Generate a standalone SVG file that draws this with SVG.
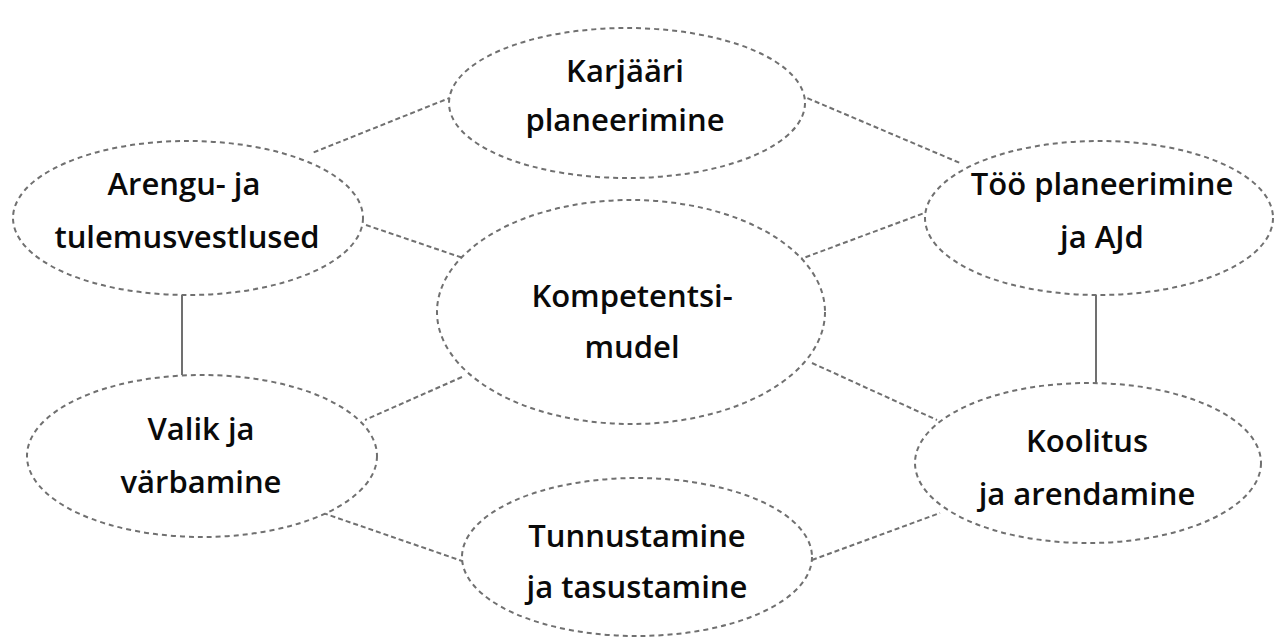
<svg xmlns="http://www.w3.org/2000/svg" width="1279" height="637" viewBox="0 0 1279 637">
<style>
.bg{fill:#fff}
.node ellipse{fill:#fff;stroke:#707070;stroke-width:2;stroke-dasharray:5 4}
.node text{font-family:"Open Sans","Liberation Sans",sans-serif;font-size:31px;font-weight:600;fill:#0a0a0a;text-anchor:middle}
.conn line{stroke:#707070;stroke-width:2;stroke-dasharray:5 3}
.conn line.solid{stroke-dasharray:none}
</style>
<rect class="bg" x="0" y="0" width="1279" height="637"/>
<g id="connectors" class="conn">
<line x1="452" y1="97" x2="312" y2="153"/>
<line x1="800" y1="95" x2="960" y2="163"/>
<line x1="366" y1="225" x2="463" y2="258"/>
<line x1="798" y1="260" x2="927" y2="212"/>
<line x1="462" y1="377" x2="365" y2="420"/>
<line x1="812" y1="363" x2="937" y2="420"/>
<line x1="323" y1="513" x2="465" y2="562"/>
<line x1="812" y1="560" x2="940" y2="513"/>
<line class="solid" x1="182" y1="295" x2="182" y2="375"/>
<line class="solid" x1="1096" y1="295" x2="1096" y2="384"/>
</g>
<g id="karjaari" class="node">
<ellipse cx="627" cy="103" rx="178" ry="75"/>
<text x="625" y="82">Karjääri</text>
<text x="625" y="131">planeerimine</text>
</g>
<g id="arengu" class="node">
<ellipse cx="188" cy="218" rx="175" ry="77"/>
<text x="184" y="195">Arengu- ja</text>
<text x="187" y="248">tulemusvestlused</text>
</g>
<g id="kompetentsi" class="node">
<ellipse cx="631" cy="312" rx="194" ry="112"/>
<text x="632" y="307">Kompetentsi-</text>
<text x="632" y="358">mudel</text>
</g>
<g id="too" class="node">
<ellipse cx="1099" cy="218" rx="174" ry="77"/>
<text x="1102" y="195">Töö planeerimine</text>
<text x="1102" y="248">ja AJd</text>
</g>
<g id="valik" class="node">
<ellipse cx="202" cy="456" rx="175" ry="81"/>
<text x="201" y="440">Valik ja</text>
<text x="201" y="493">värbamine</text>
</g>
<g id="koolitus" class="node">
<ellipse cx="1088" cy="463" rx="173" ry="80"/>
<text x="1087" y="452">Koolitus</text>
<text x="1087" y="505">ja arendamine</text>
</g>
<g id="tunnustamine" class="node">
<ellipse cx="637" cy="557" rx="175" ry="79"/>
<text x="637" y="547">Tunnustamine</text>
<text x="637" y="598">ja tasustamine</text>
</g>
</svg>
